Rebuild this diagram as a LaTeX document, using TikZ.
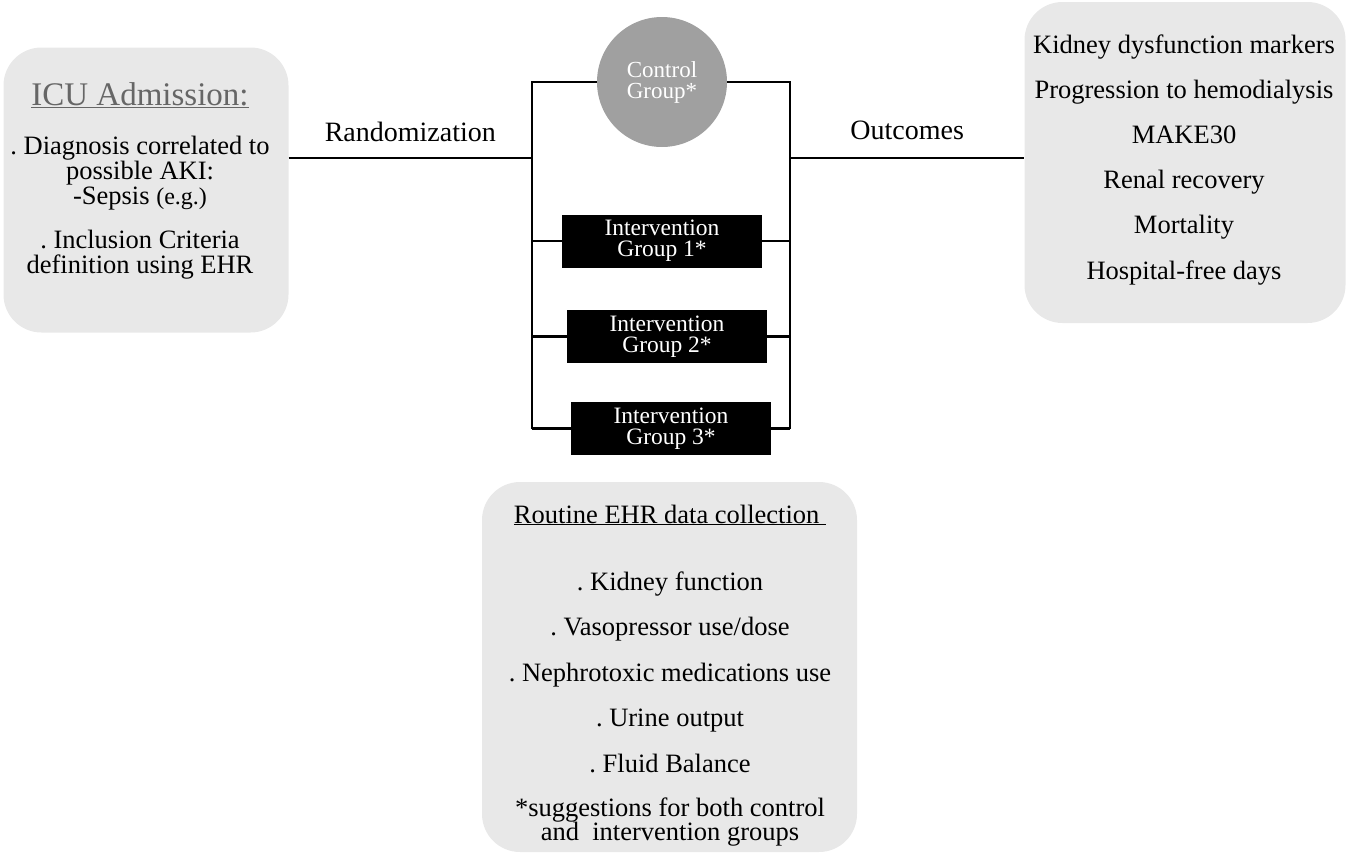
\documentclass[tikz,border=0pt]{standalone}
\usepackage{fontspec}
\setmainfont{Liberation Serif}
\usetikzlibrary{positioning}
\definecolor{BoxGrey}{HTML}{E8E8E8}
\definecolor{CircleGrey}{HTML}{A0A0A0}
\definecolor{TitleGrey}{HTML}{666666}
\frenchspacing

\begin{document}
\begin{tikzpicture}[x=1pt,y=-1pt, every node/.style={font=\fontsize{26.5}{23}\selectfont, inner sep=0pt},
  greybox/.style={fill=BoxGrey, rounded corners=38pt},
  groupbox/.style={fill=black, text=white, minimum width=200pt, minimum height=53pt, align=center, font=\fontsize{23.5}{21}\selectfont},
  line/.style={line width=2.4pt}]
  \useasboundingbox (0,0) rectangle (1355,857);
  % grey panels
  \node[greybox, minimum width=285pt, minimum height=285pt] (icu) at (146,190) {};
  \node[greybox, minimum width=321pt, minimum height=321pt] (outbox) at (1185,162.5) {};
  \node[greybox, minimum width=375pt, minimum height=370pt] (ehr) at (669.5,667) {};
  % ICU admission
  \node[anchor=base, text=TitleGrey, font=\fontsize{33}{33}\selectfont] (icutitle) at (140,105) {\underline{ICU Admission:}};
  \foreach \t/\y [count=\k] in {. Diagnosis correlated to/154, possible AKI:/179, -Sepsis {\fontsize{24}{24}\selectfont(e.g.)}/204, . Inclusion Criteria/248, definition using EHR/273}
    {\node[anchor=base] (icu\k) at (140,\y) {\t};}
  % outcomes
  \foreach \t [count=\k] in {Kidney dysfunction markers, Progression to hemodialysis, MAKE30, Renal recovery, Mortality, Hospital-free days}
    {\node[anchor=base] (out\k) at (1184,53+45.2*\k-45.2) {\t};}
  % routine data
  \node[anchor=base] (ehrtitle) at (670,523) {\underline{Routine EHR data collection\ }};
  \foreach \t [count=\k] in {. Kidney function, . Vasopressor use/dose, . Nephrotoxic medications use, . Urine output, . Fluid Balance}
    {\node[anchor=base] (ehr\k) at (670,590+45.5*\k-45.5) {\t};}
  \node[anchor=base] (note1) at (670,816) {*suggestions for both control};
  \node[anchor=base] (note2) at (670,840.5) {and\ \ intervention groups};
  % arms
  \node[circle, fill=CircleGrey, minimum size=130pt, text=white, align=center, font=\fontsize{23}{21}\selectfont] (ctrl) at (662,82) {Control\\Group*};
  \coordinate (lsplit) at (532,158);
  \coordinate (rsplit) at (790,158);
  \foreach \i/\x/\y in {1/662/241, 2/667/336.5, 3/671/428.5}{
    \node[groupbox] (g\i) at (\x,\y) {Intervention\\Group \i*};
    \draw[line] (g\i.west -| lsplit) -- (g\i.west);
    \draw[line] (g\i.east) -- (g\i.east -| rsplit);
  }
  \draw[line] (ctrl.west) -- (ctrl.west -| lsplit) -- (g3.west -| lsplit);
  \draw[line] (ctrl.east) -- (ctrl.east -| rsplit) -- (g3.east -| rsplit);
  \draw[line] (icu.east |- lsplit) -- node[above=15pt, font=\fontsize{28}{28}\selectfont] (rand) {Randomization} (lsplit);
  \draw[line] (rsplit) -- node[above=17pt, font=\fontsize{28}{28}\selectfont] (outc) {Outcomes} (outbox.west |- rsplit);
\end{tikzpicture}
\end{document}
